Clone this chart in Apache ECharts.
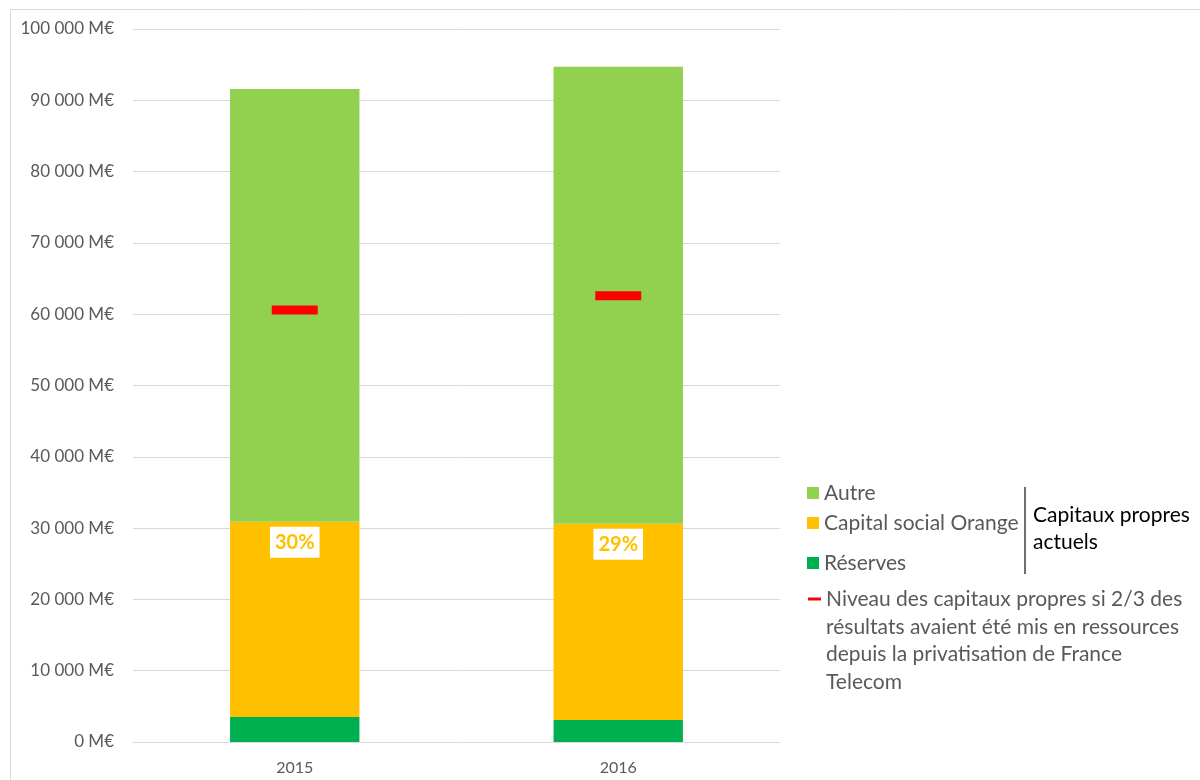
<!DOCTYPE html>
<html>
<head>
<meta charset="utf-8">
<script src="https://cdn.jsdelivr.net/npm/echarts@6/dist/echarts.min.js"></script>
<style>
  html, body { margin: 0; padding: 0; background: #fff; }
  #chart { width: 1200px; height: 780px; }
</style>
</head>
<body>
<div id="chart"></div>
<script>
// données (M€)
const years = ['2015', '2016'];
const reserves = [3500, 3100];
const capitalSocial = [27400, 27500];
const autre = [60700, 64100];
const niveauCapitaux = [60600, 62600];

const FONT = 'Lato';
const GREY = '#595959';

const chart = echarts.init(document.getElementById('chart'));

// pourcentage du capital social dans le total
const pct = (i) => Math.round(capitalSocial[i] / (reserves[i] + capitalSocial[i] + autre[i]) * 100) + '%';

const fmtMoney = (v) => String(v).replace(/\B(?=(\d{3})+(?!\d))/g, ' ') + ' M€';

const legendBase = {
    orient: 'vertical',
    itemWidth: 12,
    itemHeight: 12,
    icon: 'rect',
    textStyle: { fontFamily: FONT, fontSize: 21, color: GREY, lineHeight: 26 },
    selectedMode: false,
    padding: 0
};

const option = {
    animation: false,
    textStyle: { fontFamily: FONT },
    grid: { left: 133, right: 420, top: 29, bottom: 38 },
    legend: [
        { ...legendBase, left: 807, top: 480, data: ['Autre'] },
        { ...legendBase, left: 807, top: 510, data: ['Capital social Orange'] },
        { ...legendBase, left: 807, top: 550, data: ['Réserves'] },
        {
            ...legendBase, left: 808, top: 586, itemWidth: 13, itemHeight: 3,
            data: ['Niveau'],
            formatter: () => 'Niveau des capitaux propres si 2/3 des'
        }
    ],
    xAxis: {
        type: 'category',
        data: years,
        axisLine: { lineStyle: { color: '#d9d9d9', width: 1 } },
        axisTick: { show: false },
        axisLabel: { color: GREY, fontSize: 16, fontFamily: FONT, margin: 18 }
    },
    yAxis: {
        type: 'value',
        min: 0,
        max: 100000,
        interval: 10000,
        axisLine: { show: false },
        axisTick: { show: false },
        splitLine: { lineStyle: { color: '#d9d9d9', width: 1 } },
        axisLabel: { color: GREY, fontSize: 17, fontFamily: FONT, margin: 19, formatter: fmtMoney }
    },
    series: [
        {
            name: 'Réserves', type: 'bar', stack: 'cp', barWidth: '40%',
            itemStyle: { color: '#00B050' },
            data: reserves
        },
        {
            name: 'Capital social Orange', type: 'bar', stack: 'cp',
            itemStyle: { color: '#FFC000' },
            label: {
                show: true,
                position: 'insideTop',
                distance: 5,
                formatter: (p) => pct(p.dataIndex),
                color: '#FFC000',
                fontWeight: 'bold',
                fontSize: 20,
                fontFamily: FONT,
                backgroundColor: '#fff',
                padding: [6, 5, 5, 5]
            },
            data: capitalSocial
        },
        {
            name: 'Autre', type: 'bar', stack: 'cp',
            itemStyle: { color: '#92D050' },
            data: autre
        },
        {
            name: 'Niveau', type: 'scatter', z: 5,
            symbol: 'rect',
            symbolSize: [46, 9],
            itemStyle: { color: '#FF0000', opacity: 1 },
            data: niveauCapitaux
        }
    ],
    graphic: [
        // cadre du graphique
        { type: 'line', shape: { x1: 10, y1: 9.5, x2: 1200, y2: 9.5 }, style: { stroke: '#d9d9d9', lineWidth: 1 } },
        { type: 'line', shape: { x1: 10.5, y1: 9, x2: 10.5, y2: 780 }, style: { stroke: '#d9d9d9', lineWidth: 1 } },
        // accolade "Capitaux propres actuels"
        { type: 'line', shape: { x1: 1025, y1: 487, x2: 1025, y2: 574 }, style: { stroke: '#404040', lineWidth: 1.5 } },
        {
            type: 'text', left: 1033, top: 502,
            style: { text: 'Capitaux propres\nactuels', fill: '#000', font: '21px Lato', lineHeight: 27 }
        },
        {
            type: 'text', left: 826, top: 613,
            style: {
                text: 'résultats avaient été mis en ressources\ndepuis la privatisation de France\nTelecom',
                fill: GREY, font: '21px Lato', lineHeight: 27.5
            }
        }
    ]
};

chart.setOption(option);
</script>
</body>
</html>
